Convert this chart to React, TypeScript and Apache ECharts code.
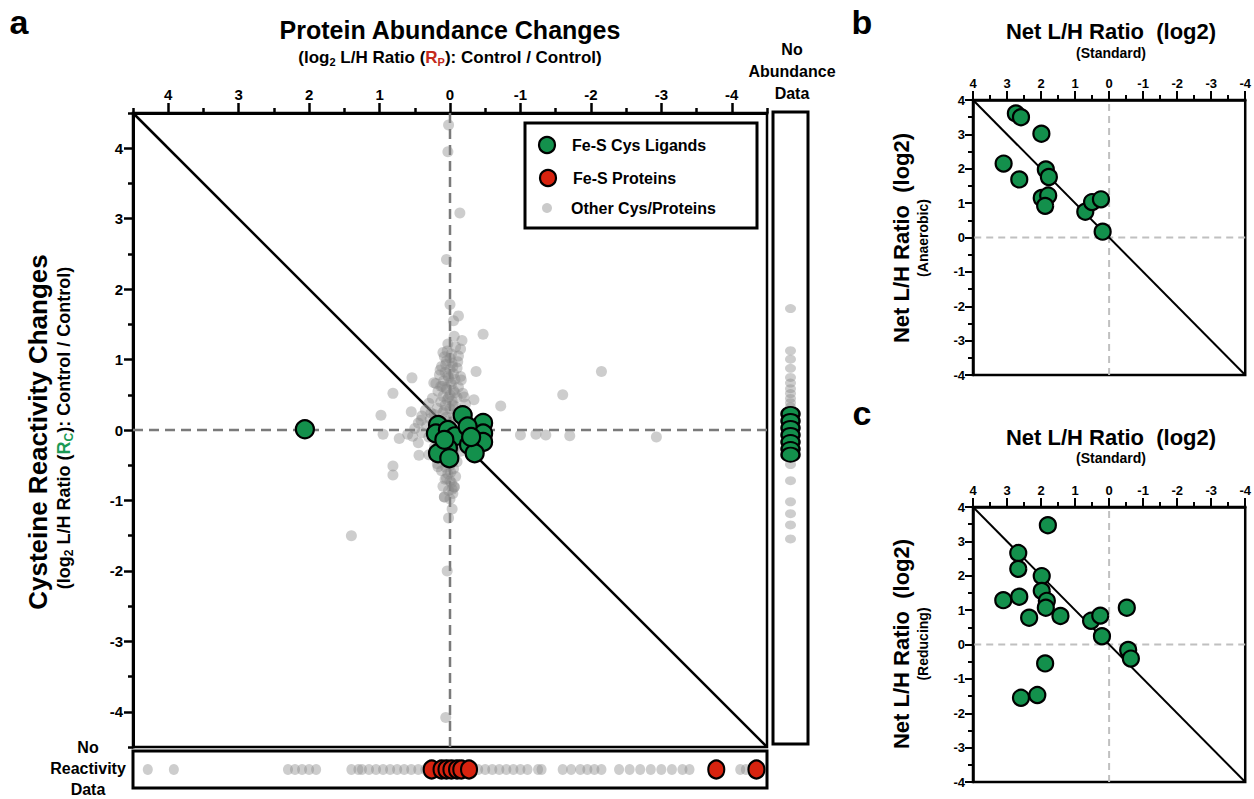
import React, { useEffect, useRef } from 'react';
import * as echarts from 'echarts';

const FONT = "'Liberation Sans', Arial, Helvetica, sans-serif";
const GREEN = '#13904c';
const RED = '#d7230f';
const GRAY = 'rgba(135,135,135,0.42)';
const RED_TEXT = '#c42a1c';
const GREEN_TEXT = '#1b9a55';

// ---- tick labels ----
const mainAxisMajor = [-4, -3, -2, -1, 0, 1, 2, 3, 4];
const mainAxisMinor = [-4.5, -3.5, -2.5, -1.5, -0.5, 0.5, 1.5, 2.5, 3.5, 4.5];
const mainExtent = [-4.5, 4.5];
const panelExtent = [-4, 4];

// ---- panel a: Fe-S Cys ligands (x = R_P, y = R_C) ----
const ligandsMain: number[][] = [
  [2.06, 0.01], [-0.18, 0.21], [0.17, 0.07], [0.2, -0.05], [0.03, 0.0],
  [-0.07, -0.09], [-0.47, 0.1], [-0.47, -0.05], [-0.47, -0.17], [-0.25, 0.05],
  [-0.27, -0.21], [-0.35, -0.33], [0.03, -0.26], [0.17, -0.33], [0.01, -0.4],
  [0.08, -0.14], [-0.3, -0.1],
];

// ---- panel a: other cysteines / proteins ----
const otherMain: number[][] = [
  [0.02, 4.33], [0.03, 3.95], [-0.14, 3.08], [0.05, 2.42], [0.0, 1.78], [-0.05, 1.55],
  [0.04, -2.0], [0.06, -4.08], [0.02, -1.25], [-0.03, -1.12],
  [0.03, 1.22], [-0.08, 1.18], [0.1, 1.1], [-0.12, 1.05], [0.0, 1.02],
  [0.05, 0.98], [-0.03, 0.95], [0.12, 0.9], [-0.1, 0.88], [0.0, 0.86], [0.07, 0.82], [-0.05, 0.8],
  [0.15, 0.78], [-0.15, 0.76], [0.02, 0.74], [-0.07, 0.72], [0.09, 0.7], [0.2, 0.66], [-0.02, 0.65],
  [0.11, 0.62], [-0.12, 0.61],
  [0.05, 0.58], [-0.05, 0.56], [0.17, 0.55], [-0.18, 0.52], [0.0, 0.5], [0.1, 0.48], [-0.1, 0.46],
  [0.25, 0.45], [0.04, 0.43], [-0.03, 0.41], [0.13, 0.4],
  [0.3, 0.38], [-0.22, 0.37], [0.07, 0.35], [-0.08, 0.33], [0.18, 0.31], [0.0, 0.3], [0.35, 0.28],
  [-0.15, 0.27], [0.1, 0.25], [0.22, 0.22], [-0.05, 0.21], [0.4, 0.2],
  [0.05, 0.18], [0.28, 0.16], [-0.12, 0.15], [0.15, 0.12], [0.45, 0.1], [0.0, 0.08], [0.33, 0.06],
  [-0.2, 0.05], [0.12, 0.03], [0.5, 0.02], [-0.35, 0.01],
  [0.2, -0.02], [0.4, -0.04], [-0.1, -0.05], [0.6, -0.06], [0.08, -0.08], [0.3, -0.1], [-0.25, -0.12],
  [0.15, -0.14], [0.0, -0.16], [0.45, -0.18],
  [-0.08, -0.22], [0.22, -0.24], [0.05, -0.26], [-0.15, -0.3], [0.12, -0.32], [0.3, -0.35], [-0.02, -0.38],
  [0.08, -0.42], [-0.1, -0.45], [0.18, -0.48], [0.0, -0.5], [-0.05, -0.55], [0.12, -0.58],
  [0.03, -0.62], [-0.08, -0.66], [0.07, -0.7], [-0.02, -0.75], [0.1, -0.8], [-0.06, -0.81],
  [0.02, -0.86], [0.08, -0.95], [-0.04, -0.9], [0.0, -0.98],
  [0.04, 1.12], [-0.02, 1.08], [0.06, 0.93], [-0.04, 0.9], [0.03, 0.77], [-0.01, 0.68],
  [0.06, 0.6], [-0.07, 0.53], [0.02, 0.46], [-0.04, 0.36], [0.08, 0.28], [-0.1, 0.24],
  [0.02, 0.13], [-0.06, -0.28], [0.04, -0.35], [-0.03, -0.46], [0.06, -0.53], [-0.01, -0.6],
  [0.05, -0.69], [0.0, -0.72], [-0.03, -0.84],
  [-0.12, 1.62], [-0.47, 1.36], [-0.06, 1.33], [-0.17, 1.27], [-0.15, 1.15], [0.08, 1.04],
  [-0.11, 0.97], [0.14, 0.85], [-0.37, 0.83], [0.54, 0.74], [-0.16, 0.71], [0.23, 0.67],
  [0.13, 0.62], [0.81, 0.52], [-0.2, 0.47], [-0.34, 0.43], [-0.72, 0.34], [0.55, 0.26],
  [0.98, 0.21], [0.41, 0.14], [0.27, 0.24], [0.95, -0.06], [0.72, -0.12], [0.53, -0.09],
  [-1.22, -0.06], [0.44, -0.36], [0.81, -0.51], [0.81, -0.64], [0.17, -0.52], [-0.06, -0.81],
  [0.08, -0.95],
  [1.4, -1.5], [-1.36, -0.07], [-1.6, 0.5], [-1.7, -0.08], [-2.15, 0.83], [-2.93, -0.1], [-1.0, -0.07],
];

// ---- No abundance data (R_C only) ----
const otherNoAbundance = [1.7, 1.1, 0.98, 0.85, 0.72, 0.64, 0.56, 0.49, 0.42, 0.36, 0.3,
  -0.52, -0.75, -1.05, -1.22, -1.38, -1.58];
const ligandsNoAbundance = [0.2, 0.1, 0.0, -0.1, -0.2, -0.3, -0.38];

// ---- No reactivity data (R_P only) ----
const otherNoReactivity = [4.29, 3.92, 2.3, 2.2, 2.1, 2.0, 1.9, 1.4, 1.3, 1.25, 1.15, 1.05, 0.95,
  0.85, 0.75, 0.65, 0.55, 0.45, 0.35, 0.3, 0.2, 0.1, 0.0, -0.1, -0.2, -0.3, -0.4, -0.5, -0.6, -0.7,
  -0.8, -0.9, -1.0, -1.1, -1.25, -1.3, -1.6, -1.72, -1.85, -1.95, -2.05, -2.15, -2.4, -2.55, -2.7,
  -2.85, -3.0, -3.15, -3.3, -3.4, -4.12, -4.2];
const proteinsNoReactivity = [0.26, 0.12, 0.05, -0.02, -0.1, -0.16, -0.27, -3.78, -4.35];

// ---- panel b: Standard vs Anaerobic ----
const panelB: number[][] = [
  [2.74, 3.61], [2.59, 3.5], [1.99, 3.02], [3.1, 2.15], [2.64, 1.69], [1.86, 1.98], [1.77, 1.76],
  [1.98, 1.15], [1.79, 1.22], [1.88, 0.92], [0.7, 0.75], [0.5, 1.03], [0.24, 1.11], [0.19, 0.17],
];

// ---- panel c: Standard vs Reducing ----
const panelC: number[][] = [
  [1.8, 3.47], [2.67, 2.66], [2.67, 2.2], [1.98, 1.99], [1.98, 1.56], [1.83, 1.27], [1.86, 1.07],
  [3.11, 1.29], [2.64, 1.39], [2.35, 0.78], [1.43, 0.83], [0.53, 0.69], [0.26, 0.84], [0.21, 0.24],
  [-0.52, 1.07], [-0.56, -0.16], [-0.64, -0.41], [1.88, -0.55], [2.59, -1.55], [2.11, -1.47],
];

const boldText = (size: number, extra: any = {}) => ({
  fontFamily: FONT, fontWeight: 'bold', fontSize: size, fill: '#000', ...extra,
});

function txt(x: number, y: number, text: string, size: number, opts: any = {}) {
  const { rotation, rich, lineHeight, align } = opts;
  return {
    type: 'text',
    x, y,
    rotation: rotation || 0,
    silent: true,
    style: {
      text, x: 0, y: 0,
      align: align || 'center', verticalAlign: 'middle',
      fontFamily: FONT, fontWeight: 'bold', fontSize: size, fill: '#000',
      lineHeight, rich,
    },
  };
}

function subRich(size: number, subSize: number, color: string) {
  const pad = Math.round(size * 0.5);
  return {
    a: boldText(size),
    s: boldText(subSize, { padding: [pad, 0, 0, 0] }),
    r: boldText(size, { fill: color }),
    rs: boldText(subSize, { fill: color, padding: [pad, 0, 0, 0] }),
  };
}

const axisLineStyle = (w: number) => ({ color: '#000', width: w });
const labelStyle = (size: number, margin: number) => ({
  show: true, margin, fontSize: size, fontWeight: 'bold', color: '#000', fontFamily: FONT,
});

function panelX(gridIndex: number) {
  return {
    gridIndex, type: 'value', position: 'top', inverse: true,
    min: panelExtent[0], max: panelExtent[1], interval: 1,
    axisLine: { show: true, onZero: false, lineStyle: axisLineStyle(2.5) },
    axisTick: { show: true, length: 9, lineStyle: axisLineStyle(2) },
    minorTick: { show: true, splitNumber: 2, length: 5, lineStyle: axisLineStyle(2) },
    axisLabel: labelStyle(13, 10),
    splitLine: { show: false },
  };
}
function panelY(gridIndex: number) {
  return {
    gridIndex, type: 'value', position: 'left',
    min: panelExtent[0], max: panelExtent[1], interval: 1,
    axisLine: { show: true, onZero: false, lineStyle: axisLineStyle(2.5) },
    axisTick: { show: true, length: 8, lineStyle: axisLineStyle(2) },
    minorTick: { show: true, splitNumber: 2, length: 5, lineStyle: axisLineStyle(2) },
    axisLabel: labelStyle(13, 8),
    splitLine: { show: false },
  };
}
const hidden = (gridIndex: number, min: number, max: number, inverse = false) => ({
  gridIndex, type: 'value', min, max, inverse, show: false,
  axisLine: { show: false, onZero: false }, splitLine: { show: false },
});

function guide(xi: number, yi: number, data: number[][], color: string, width: number, type: any) {
  return {
    type: 'line', xAxisIndex: xi, yAxisIndex: yi, data, symbol: 'none', silent: true,
    lineStyle: { color, width, type }, z: 1, clip: false,
  };
}

function buildOption() {
  const [lo, hi] = mainExtent;
  const [plo, phi] = panelExtent;
  const greenStyle = { color: GREEN, borderColor: '#000', borderWidth: 2.2, opacity: 1 };
  const redStyle = { color: RED, borderColor: '#000', borderWidth: 2.2, opacity: 1 };
  const grayStyle = { color: GRAY, opacity: 1 };

  return {
    animation: false,
    backgroundColor: '#fff',
    grid: [
      { left: 133, top: 113, width: 634, height: 634, show: true, borderColor: '#000', borderWidth: 2.5 },
      { left: 773, top: 112, width: 35, height: 632, show: true, borderColor: '#000', borderWidth: 3 },
      { left: 133, top: 751, width: 634, height: 37, show: true, borderColor: '#000', borderWidth: 3 },
      { left: 973, top: 100, width: 275, height: 275, show: true, borderColor: '#000', borderWidth: 2.5 },
      { left: 973, top: 507, width: 275, height: 275, show: true, borderColor: '#000', borderWidth: 2.5 },
    ],
    xAxis: [
      {
        gridIndex: 0, type: 'value', position: 'top', inverse: true, min: lo, max: hi,
        axisLine: { show: true, onZero: false, lineStyle: axisLineStyle(3) },
        axisTick: { show: true, customValues: mainAxisMajor, length: 10, lineStyle: axisLineStyle(2.5) },
        axisLabel: { ...labelStyle(15, 11), customValues: mainAxisMajor },
        splitLine: { show: false },
      },
      {
        gridIndex: 0, type: 'value', position: 'top', inverse: true, min: lo, max: hi,
        axisLine: { show: false, onZero: false },
        axisTick: { show: true, customValues: mainAxisMinor, length: 5, lineStyle: axisLineStyle(2.5) },
        axisLabel: { show: false },
        splitLine: { show: false },
      },
      hidden(1, 0, 1),
      hidden(2, lo, hi, true),
      panelX(3),
      panelX(4),
    ],
    yAxis: [
      {
        gridIndex: 0, type: 'value', position: 'left', min: lo, max: hi,
        axisLine: { show: true, onZero: false, lineStyle: axisLineStyle(3) },
        axisTick: { show: true, customValues: mainAxisMajor, length: 9, lineStyle: axisLineStyle(2.5) },
        axisLabel: { ...labelStyle(15, 10), customValues: mainAxisMajor },
        splitLine: { show: false },
      },
      {
        gridIndex: 0, type: 'value', position: 'left', min: lo, max: hi,
        axisLine: { show: false, onZero: false },
        axisTick: { show: true, customValues: mainAxisMinor, length: 5, lineStyle: axisLineStyle(2.5) },
        axisLabel: { show: false },
        splitLine: { show: false },
      },
      hidden(1, lo, hi),
      hidden(2, 0, 1),
      panelY(3),
      panelY(4),
    ],
    series: [
      // panel a guides
      guide(0, 0, [[0, lo], [0, hi]], '#7a7a7a', 2.5, [10, 6]),
      guide(0, 0, [[lo, 0], [hi, 0]], '#7a7a7a', 2.5, [10, 6]),
      guide(0, 0, [[lo, lo], [hi, hi]], '#000', 2.5, 'solid'),
      {
        name: 'Other Cys/Proteins', type: 'scatter', xAxisIndex: 0, yAxisIndex: 0,
        data: otherMain, symbolSize: 11, itemStyle: grayStyle, z: 2, silent: true,
      },
      {
        name: 'Fe-S Cys Ligands', type: 'scatter', xAxisIndex: 0, yAxisIndex: 0,
        data: ligandsMain, symbolSize: 18, itemStyle: greenStyle, z: 3, silent: true,
      },
      // no abundance strip
      {
        type: 'scatter', xAxisIndex: 2, yAxisIndex: 2,
        data: otherNoAbundance.map((v) => [0.5, v]), symbolSize: [11, 9],
        itemStyle: grayStyle, z: 2, silent: true,
      },
      {
        type: 'scatter', xAxisIndex: 2, yAxisIndex: 2,
        data: ligandsNoAbundance.map((v) => [0.5, v]), symbolSize: [18, 14],
        itemStyle: greenStyle, z: 3, silent: true,
      },
      // no reactivity strip
      {
        type: 'scatter', xAxisIndex: 3, yAxisIndex: 3,
        data: otherNoReactivity.map((v) => [v, 0.5]), symbolSize: [10, 11],
        itemStyle: grayStyle, z: 2, silent: true,
      },
      {
        name: 'Fe-S Proteins', type: 'scatter', xAxisIndex: 3, yAxisIndex: 3,
        data: proteinsNoReactivity.map((v) => [v, 0.5]), symbolSize: [16, 18],
        itemStyle: redStyle, z: 3, silent: true,
      },
      // panel b
      guide(4, 4, [[0, plo], [0, phi]], '#c0c0c0', 2, [7, 5]),
      guide(4, 4, [[plo, 0], [phi, 0]], '#c0c0c0', 2, [7, 5]),
      guide(4, 4, [[plo, plo], [phi, phi]], '#000', 2, 'solid'),
      {
        type: 'scatter', xAxisIndex: 4, yAxisIndex: 4, data: panelB, symbolSize: 16,
        itemStyle: greenStyle, z: 3, silent: true,
      },
      // panel c
      guide(5, 5, [[0, plo], [0, phi]], '#c0c0c0', 2, [7, 5]),
      guide(5, 5, [[plo, 0], [phi, 0]], '#c0c0c0', 2, [7, 5]),
      guide(5, 5, [[plo, plo], [phi, phi]], '#000', 2, 'solid'),
      {
        type: 'scatter', xAxisIndex: 5, yAxisIndex: 5, data: panelC, symbolSize: 16,
        itemStyle: greenStyle, z: 3, silent: true,
      },
    ],
    graphic: [
      txt(19, 22, 'a', 34),
      txt(450, 30, 'Protein Abundance Changes', 25),
      txt(450, 57, '{a|(log}{s|2}{a| L/H Ratio (}{r|R}{rs|P}{a|): Control / Control)}', 17,
        { rich: subRich(17, 11, RED_TEXT) }),
      txt(792, 71, 'No\nAbundance\nData', 16, { lineHeight: 22 }),
      txt(88, 768, 'No\nReactivity\nData', 16, { lineHeight: 21 }),
      txt(38, 432, 'Cysteine Reactivity Changes', 26, { rotation: Math.PI / 2 }),
      txt(64, 428, '{a|(log}{s|2}{a| L/H Ratio (}{r|R}{rs|C}{a|): Control / Control)}', 18,
        { rotation: Math.PI / 2, rich: subRich(18, 12, GREEN_TEXT) }),
      // legend
      {
        type: 'rect', shape: { x: 525, y: 123, width: 232, height: 105 },
        style: { fill: '#fff', stroke: '#000', lineWidth: 3 }, z: 10, silent: true,
      },
      { type: 'circle', shape: { cx: 547, cy: 145, r: 8 }, style: { fill: GREEN, stroke: '#000', lineWidth: 2.2 }, z: 11 },
      { type: 'circle', shape: { cx: 548, cy: 178, r: 8 }, style: { fill: RED, stroke: '#000', lineWidth: 2.2 }, z: 11 },
      { type: 'circle', shape: { cx: 547, cy: 208, r: 5 }, style: { fill: '#cacaca' }, z: 11 },
      { ...txt(572, 145, 'Fe-S Cys Ligands', 16, { align: 'left' }), z: 11 },
      { ...txt(573, 178, 'Fe-S Proteins', 16, { align: 'left' }), z: 11 },
      { ...txt(571, 208, 'Other Cys/Proteins', 16, { align: 'left' }), z: 11 },
      // panel b
      txt(862, 22, 'b', 34),
      txt(1111, 31, 'Net L/H Ratio  (log2)', 22),
      txt(1111, 53, '(Standard)', 14),
      txt(901, 238, 'Net L/H Ratio  (log2)', 22, { rotation: Math.PI / 2 }),
      txt(923, 238, '(Anaerobic)', 14, { rotation: Math.PI / 2 }),
      // panel c
      txt(862, 413, 'c', 34),
      txt(1111, 437, 'Net L/H Ratio  (log2)', 22),
      txt(1111, 458, '(Standard)', 14),
      txt(901, 644, 'Net L/H Ratio  (log2)', 22, { rotation: Math.PI / 2 }),
      txt(923, 644, '(Reducing)', 14, { rotation: Math.PI / 2 }),
    ],
  };
}

export default function App() {
  const ref = useRef<HTMLDivElement>(null);
  useEffect(() => {
    if (!ref.current) return;
    const chart = echarts.init(ref.current, null, { renderer: 'svg' });
    chart.setOption(buildOption() as any);
    return () => chart.dispose();
  }, []);
  return (
    <div
      ref={ref}
      style={{ position: 'absolute', left: 0, top: 0, width: 1254, height: 799, background: '#fff' }}
    />
  );
}
